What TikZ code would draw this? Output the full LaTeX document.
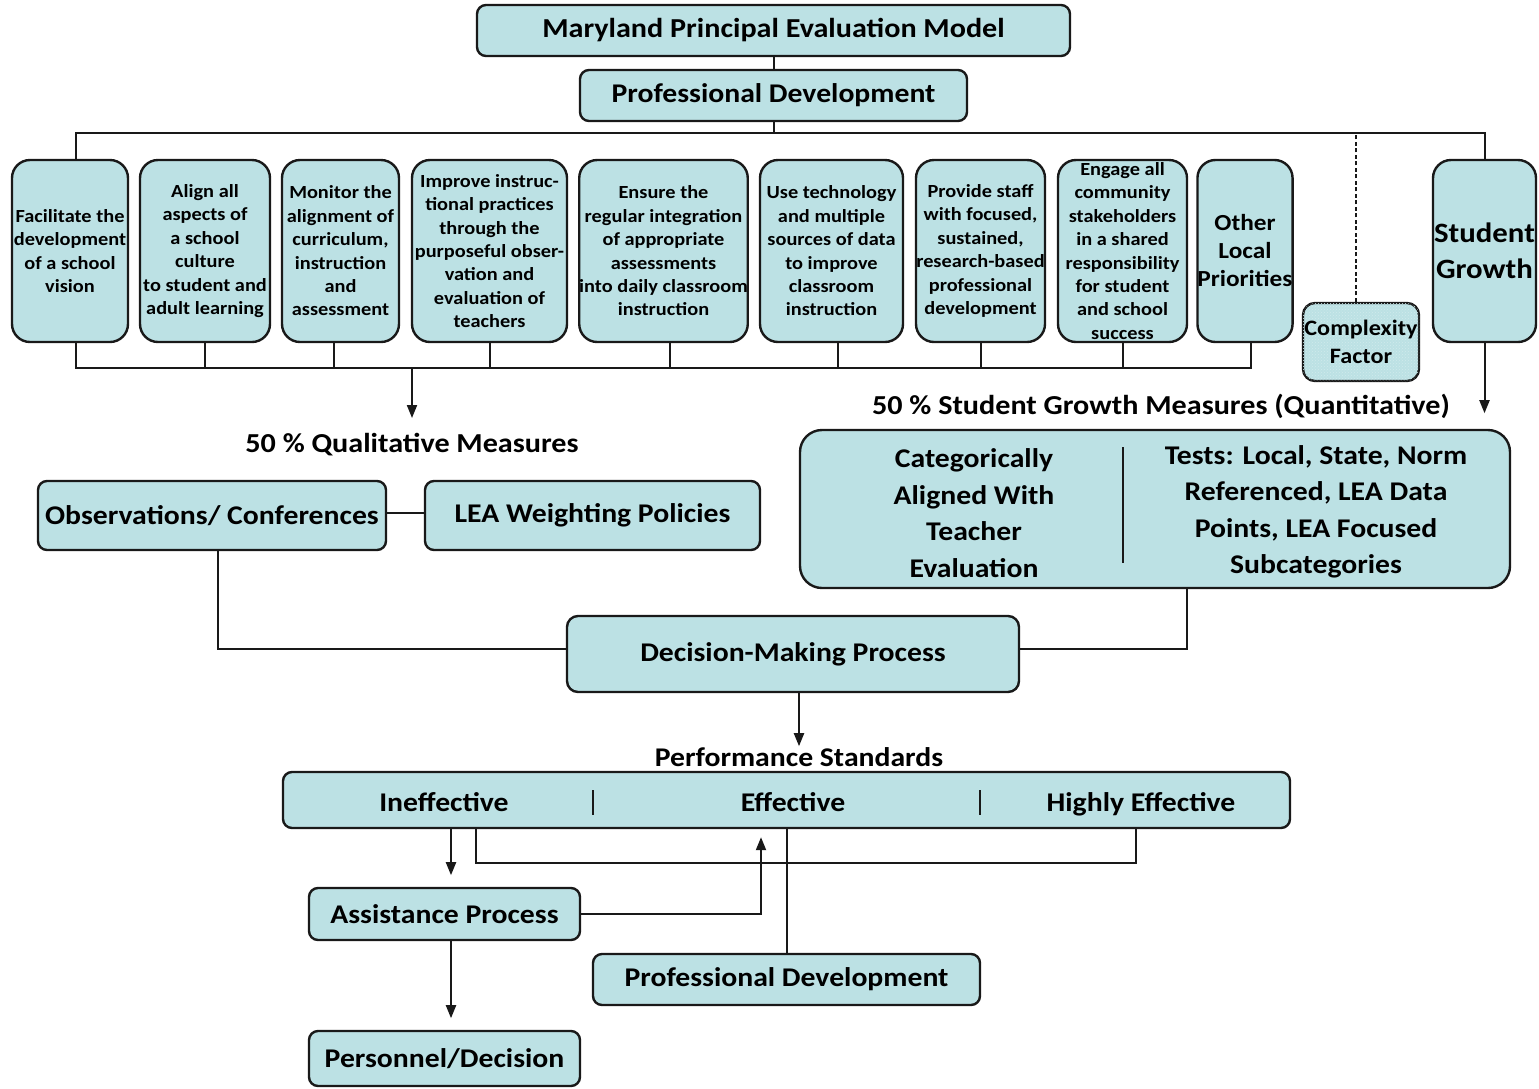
\documentclass[tikz,border=0pt]{standalone}
\usepackage{fontspec}
\setmainfont{Carlito}[FakeStretch=1.1]
\usetikzlibrary{arrows.meta,patterns}
\definecolor{cfill}{RGB}{188,225,228}
\definecolor{cline}{RGB}{25,25,25}
\newcommand{\fsz}[2]{\fontsize{#1}{#2}\selectfont}
\tikzset{
  box/.style={draw=cline, line width=2.4pt, fill=cfill, rounded corners=#1, inner sep=0pt, align=center},
  box/.default=10pt,
  conn/.style={draw=cline, line width=2pt},
  arr/.style={conn, -{Triangle[length=13pt,width=10pt]}},
  lbl/.style={inner sep=0pt, align=center, font=\bfseries\fsz{27.4}{30}},
  small/.style={box=18pt, minimum height=182pt, font=\bfseries\fsz{18.5}{23.4}}
}
\begin{document}
\begin{tikzpicture}[x=1pt,y=-1pt]
\useasboundingbox (0,0) rectangle (1539,1088);

% top
\node[box=9pt, minimum width=593pt, minimum height=51pt, font=\bfseries\fsz{27.4}{30}] (title) at (773.5,30.5) {Maryland Principal Evaluation Model};
\node[box=9pt, minimum width=387pt, minimum height=51pt, font=\bfseries\fsz{27}{30}] (pd1) at (773.5,95.5) {Professional Development};
\coordinate (tb) at (773.5,133);
\coordinate (bb) at (412,368);

% nine standards
\node[small, minimum width=116pt] (b1) at (70,251) {Facilitate the\\development\\of a school\\vision};
\node[small, minimum width=130pt] (b2) at (205,251) {Align all\\aspects of\\a school\\culture\\to student and\\adult learning};
\node[small, minimum width=117pt] (b3) at (340.5,251) {Monitor the\\alignment of\\curriculum,\\instruction\\and\\assessment};
\node[small, minimum width=155pt] (b4) at (489.5,251) {Improve instruc-\\tional practices\\through the\\purposeful obser-\\vation and\\evaluation of\\teachers};
\node[small, minimum width=167pt] (b5) at (663.5,251) {Ensure the\\regular integration\\of appropriate\\assessments\\into daily classroom\\instruction};
\node[small, minimum width=143pt] (b6) at (831.5,251) {Use technology\\and multiple\\sources of data\\to improve\\classroom\\instruction};
\node[small, minimum width=129pt] (b7) at (980.5,251) {Provide staff\\with focused,\\sustained,\\research-based\\professional\\development};
\node[small, minimum width=129pt] (b8) at (1122.5,251) {Engage all\\community\\stakeholders\\in a shared\\responsibility\\for student\\and school\\success};
\node[small, minimum width=90pt, font=\bfseries\fsz{23}{28}] (b9) at (1245,251) {Other\\Local\\Priorities};
\node[small, minimum width=103pt, font=\bfseries\fsz{28}{36}] (sg) at (1484.5,251) {Student\\Growth};
\node[box=12pt, minimum width=116pt, minimum height=78pt, font=\bfseries\fsz{22}{28},
      postaction={pattern=crosshatch dots, pattern color=white!30!cfill}] (cf) at (1361,342) {Complexity\\Factor};

% top connectors
\draw[conn] (title.south) -- (pd1.north);
\draw[conn] (pd1.south) -- (tb);
\draw[conn] ([xshift=6pt]b1.north) |- (tb) -| (sg.north);
\draw[conn, dash pattern=on 4pt off 2.5pt, line width=1.6pt] ([xshift=-5pt]cf.north) -- ([xshift=-5pt]cf.north |- tb);

% bottom bus
\draw[conn] ([xshift=6pt]b1.south) |- ([xshift=6pt]b9.south |- bb) -- ([xshift=6pt]b9.south);
\draw[conn] (b2.south) -- (b2.south |- bb);
\draw[conn] ([xshift=-6.5pt]b3.south) -- ([xshift=-6.5pt]b3.south |- bb);
\draw[conn] (b4.south) -- (b4.south |- bb);
\draw[conn] ([xshift=6.5pt]b5.south) -- ([xshift=6.5pt]b5.south |- bb);
\draw[conn] ([xshift=6.5pt]b6.south) -- ([xshift=6.5pt]b6.south |- bb);
\draw[conn] (b7.south) -- (b7.south |- bb);
\draw[conn] (b8.south) -- (b8.south |- bb);
\draw[arr] (bb) -- ++(0,50);

% qualitative
\node[lbl] (qual) at (412,445) {50 \% Qualitative Measures};
\node[box=9pt, minimum width=348pt, minimum height=69pt, font=\bfseries\fsz{27}{30}] (obs) at (212,515.5) {Observations/ Conferences};
\node[box=9pt, minimum width=335pt, minimum height=69pt, font=\bfseries\fsz{27}{30}] (lea) at (592.5,515.5) {LEA Weighting Policies};
\draw[conn] ([yshift=3pt]obs.east) -- ([yshift=3pt]lea.west);

% quantitative
\draw[arr] (sg.south) -- ++(0,70);
\node[lbl] (quant) at (1161,406) {50 \% Student Growth Measures (Quantitative)};
\node[box=22pt, minimum width=710pt, minimum height=158pt] (sgm) at (1155,509) {};
\node[lbl, font=\bfseries\fsz{27}{36.5}] (catl) at (974,513) {Categorically\\Aligned With\\Teacher\\Evaluation};
\node[lbl, font=\bfseries\fsz{27}{36.5}] (tests) at (1316,512) {Tests: Local, State, Norm\\Referenced, LEA Data\\Points, LEA Focused\\Subcategories};
\coordinate (dvt) at (1123,447);
\coordinate (dvb) at (1123,563);
\draw[conn] (dvt) -- (dvb);

% decision
\node[box=11pt, minimum width=452pt, minimum height=76pt, font=\bfseries\fsz{27}{30}] (dmp) at (793,654) {Decision-Making Process};
\draw[conn] ([xshift=6pt]obs.south) |- ([yshift=5pt]dmp.west);
\draw[conn] ([xshift=32pt]sgm.south) |- ([yshift=5pt]dmp.east);
\draw[arr] ([xshift=6pt]dmp.south) -- ++(0,53);

% performance
\node[lbl, font=\bfseries\fsz{27}{30}] (pstd) at (799,757) {Performance Standards};
\node[box=9pt, minimum width=1007pt, minimum height=56pt] (perf) at (786.5,800) {};
\node[lbl, font=\bfseries\fsz{27}{30}, anchor=base] (ineff) at (444,811) {Ineffective};
\node[lbl, font=\bfseries\fsz{27}{30}, anchor=base] (eff) at (793,811) {Effective};
\node[lbl, font=\bfseries\fsz{27}{30}, anchor=base] (heff) at (1141,811) {Highly Effective};
\coordinate (s1t) at (593,790); \coordinate (s1b) at (593,815);
\coordinate (s2t) at (980,790); \coordinate (s2b) at (980,815);
\draw[conn] (s1t) -- (s1b);
\draw[conn] (s2t) -- (s2b);

\node[box=9pt, minimum width=271pt, minimum height=52pt, font=\bfseries\fsz{27}{30}] (ass) at (444.5,914) {Assistance Process};
\node[box=9pt, minimum width=387pt, minimum height=51pt, font=\bfseries\fsz{27}{30}] (pd2) at (786.5,979.5) {Professional Development};
\node[box=9pt, minimum width=271pt, minimum height=55pt, font=\bfseries\fsz{27}{30}] (pers) at (444.5,1058.5) {Personnel/Decision};

\draw[arr] ([xshift=6.5pt]ass.north |- perf.south) -- ++(0,46);
\draw[conn] ([xshift=-310.5pt]perf.south) -- ++(0,34) -| ([xshift=349.5pt]perf.south);
\draw[conn] (pd2.north) -- (pd2.north |- perf.south);
\draw[arr] (ass.east) -| ([xshift=-25.5pt,yshift=-8pt]perf.south);
\draw[arr] ([xshift=6.5pt]ass.south) -- ++(0,77);
\end{tikzpicture}
\end{document}
